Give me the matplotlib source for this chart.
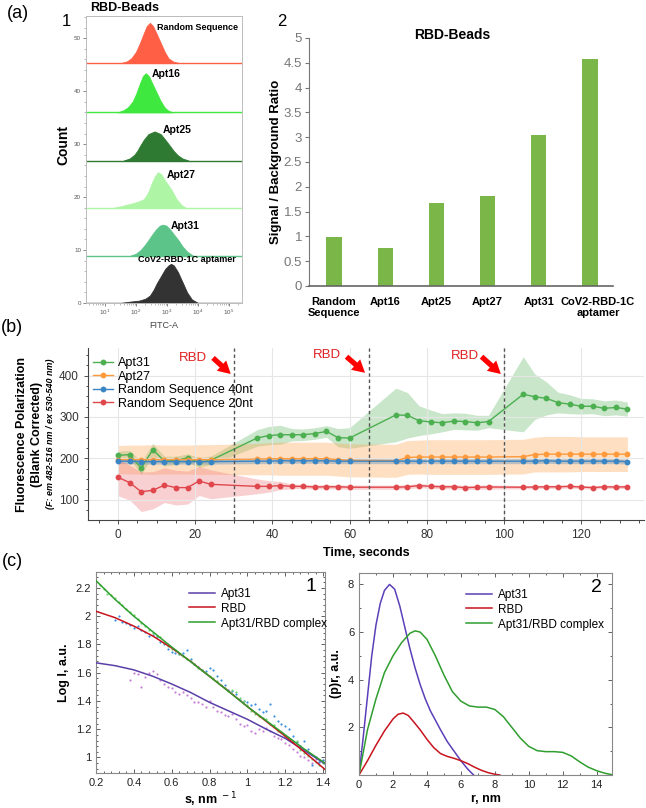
import numpy as np
import matplotlib.pyplot as plt
from matplotlib.ticker import MultipleLocator, AutoMinorLocator, LogLocator, NullFormatter
from matplotlib.transforms import ScaledTranslation

plt.rcParams['font.family'] = ['Liberation Sans', 'DejaVu Sans']

W, H = 646, 808

def rect(l, t, r, b):
    return [l / W, 1 - b / H, (r - l) / W, (b - t) / H]

# ---------------- (a)1 flow cytometry histograms ----------------
hist_names = ["Random Sequence", "Apt16", "Apt25", "Apt27", "Apt31", "CoV2-RBD-1C aptamer"]
hist_colors = ["#ff5f45", "#3ee83e", "#2f7a32", "#aef5a6", "#5cc489", "#333333"]
hist_base = [45.3, 36.0, 26.9, 18.0, 8.9, 0.0]
hist_logx = [
    [1.5, 1.7, 1.85, 2.0, 2.13, 2.25, 2.35, 2.45, 2.55, 2.67, 2.8, 2.93, 3.05, 3.2, 3.4],
    [1.4, 1.6, 1.75, 1.9, 2.02, 2.13, 2.23, 2.32, 2.42, 2.54, 2.67, 2.8, 2.93, 3.05, 3.2],
    [1.6, 1.8, 1.95, 2.05, 2.13, 2.25, 2.4, 2.6, 2.8, 2.95, 3.1, 3.22, 3.35, 3.5, 3.7],
    [1.3, 1.5, 1.7, 1.9, 2.1, 2.25, 2.35, 2.43, 2.52, 2.62, 2.71, 2.82, 2.95, 3.05, 3.15,
     3.3, 3.45, 3.6],
    [1.8, 2.0, 2.15, 2.28, 2.4, 2.52, 2.65, 2.77, 2.87, 2.98, 3.1, 3.23, 3.37, 3.5, 3.65, 3.85],
    [1.5, 1.8, 2.1, 2.3, 2.45, 2.57, 2.67, 2.8, 2.95, 3.05, 3.13, 3.22, 3.35, 3.52, 3.65,
     3.8, 4.0],
]
hist_counts = [
    [0, 0.3, 0.9, 2.1, 3.8, 5.6, 7.0, 7.6, 7.0, 5.5, 3.8, 2.1, 0.9, 0.3, 0],
    [0, 0.4, 1.0, 2.1, 3.7, 5.5, 6.9, 7.4, 6.8, 5.3, 3.7, 2.1, 0.9, 0.3, 0],
    [0, 0.4, 1.1, 1.9, 2.75, 3.9, 5.0, 5.5, 5.0, 3.9, 2.75, 1.8, 1.0, 0.4, 0],
    [0, 0.25, 0.55, 0.85, 1.2, 1.6, 2.4, 3.35, 4.8, 6.0, 6.7, 6.3, 5.0, 4.2, 3.35,
     1.7, 0.6, 0],
    [0, 0.4, 1.1, 2.0, 2.95, 4.0, 5.0, 5.7, 5.9, 5.7, 5.0, 4.0, 2.95, 1.8, 0.8, 0],
    [0, 0.25, 0.45, 0.8, 1.4, 2.5, 3.7, 5.0, 6.5, 7.1, 7.4, 7.1, 5.9, 3.7, 2.0, 0.7, 0],
]
hist_label_pos = [(2.68, 52.0), (2.52, 43.3), (2.85, 32.7), (2.98, 24.2), (3.13, 14.6), (2.06, 8.3)]

# ---------------- (a)2 bar chart ----------------
bar_labels = ["Random\nSequence", "Apt16", "Apt25", "Apt27", "Apt31", "CoV2-RBD-1C\naptamer"]
bar_values = [0.99, 0.77, 1.68, 1.82, 3.04, 4.57]

# ---------------- (b) fluorescence polarization ----------------
t_sec = [0, 3, 6, 9, 12, 15, 18, 21, 24,
         36, 39, 42, 45, 48, 51, 54, 57, 60,
         72, 75, 78, 81, 84, 87, 90, 93, 96,
         105, 108, 111, 114, 117, 120, 123, 126, 129, 132]
apt31 = [207, 209, 176, 221, 193, 195, 201, 190, 195,
         249, 255, 257, 257, 257, 260, 265, 250, 249,
         305, 304, 291, 288, 286, 290, 289, 286, 289,
         355, 349, 345, 335, 331, 326, 326, 321, 323, 319]
apt31_sd = [10, 10, 15, 15, 12, 10, 10, 12, 10,
            20, 22, 23, 15, 14, 14, 14, 22, 25,
            65, 55, 36, 29, 22, 20, 20, 18, 15,
            91, 55, 40, 25, 23, 19, 18, 18, 18, 17]
apt27 = [197, 197, 197, 197, 197, 197, 197, 197, 197,
         198, 199, 199, 199, 199, 199, 199, 197, 195,
         194, 202, 203, 203, 203, 203, 203, 203, 203,
         204, 209, 210, 210, 210, 210, 210, 210, 210, 210]
apt27_sd = [34, 35, 35, 36, 35, 35, 35, 36, 36,
            38, 39, 40, 40, 40, 40, 40, 40, 40,
            40, 41, 41, 42, 42, 42, 42, 42, 42,
            42, 42, 43, 43, 43, 42, 42, 42, 42, 42]
rs40 = [193, 193, 192, 192, 192, 192, 192, 192, 192,
        193, 193, 194, 194, 194, 194, 194, 193, 193,
        193, 193, 193, 193, 193, 193, 193, 193, 193,
        193, 193, 194, 193, 193, 193, 193, 193, 193, 192]
rs40_sd = [6, 6, 6, 6, 6, 6, 6, 6, 6,
           6, 6, 6, 6, 6, 6, 6, 6, 6,
           6, 6, 6, 6, 6, 6, 6, 6, 6,
           6, 6, 6, 6, 6, 6, 6, 6, 6, 6]
rs20 = [154, 141, 119, 122.5, 135, 129, 129, 145, 137,
        132, 132, 134, 132, 132, 130.5, 131, 131, 130,
        130, 131, 134, 132, 131, 131, 129, 130, 130.5,
        130, 130.5, 131, 131, 132, 130.5, 129, 131, 130.5, 131]
rs20_sd = [45, 42, 48, 45, 42, 42, 40, 35, 35,
           18, 14, 10, 6, 5, 5, 5, 5, 5,
           5, 5, 5, 5, 5, 5, 5, 5, 5,
           4, 4, 4, 4, 4, 4, 4, 4, 4, 4]
rbd_times = [30, 65, 100]
rbd_text_pos = [(19.4, 444), (54.2, 450), (89.9, 448)]
rbd_arrow = [((24.6, 443), (29.2, 404)), ((59.2, 446), (64.0, 407)), ((94.2, 446), (99.2, 404))]

# ---------------- (c)1 SAXS curves ----------------
fit_s = [0.2, 0.3, 0.4, 0.5, 0.6, 0.7, 0.8, 0.9, 1.0, 1.1, 1.2, 1.3, 1.41]
fit_apt31 = [1.67, 1.65, 1.62, 1.575, 1.52, 1.46, 1.39, 1.33, 1.27, 1.20, 1.135, 1.05, 0.955]
fit_rbd = [2.035, 1.99, 1.93, 1.86, 1.775, 1.68, 1.574, 1.47, 1.36, 1.255, 1.15, 1.04, 0.915]
fit_complex = [2.252, 2.12, 2.0, 1.89, 1.782, 1.678, 1.574, 1.468, 1.36, 1.26, 1.16, 1.06, 0.96]

pts_s_apt31 = [0.38, 0.40, 0.42, 0.44, 0.46, 0.48, 0.50, 0.52, 0.54, 0.56, 0.58, 0.60, 0.62, 0.64,
               0.66, 0.68, 0.70, 0.72, 0.74, 0.76, 0.78, 0.80, 0.82, 0.84, 0.86, 0.88, 0.90, 0.92,
               0.94, 0.96, 0.98, 1.00, 1.02, 1.04, 1.06, 1.08, 1.10, 1.12, 1.14, 1.16, 1.18, 1.20,
               1.22, 1.24, 1.26, 1.28, 1.30, 1.32, 1.34, 1.36, 1.38, 1.40]
pts_apt31 = [1.55, 1.60, 1.59, 1.50, 1.57, 1.60, 1.61, 1.59, 1.55, 1.52, 1.50, 1.49, 1.46, 1.45,
             1.46, 1.44, 1.42, 1.39, 1.39, 1.38, 1.36, 1.40, 1.36, 1.33, 1.32, 1.30, 1.29, 1.31,
             1.27, 1.24, 1.22, 1.23, 1.19, 1.17, 1.20, 1.19, 1.21, 1.19, 1.15, 1.14, 1.13, 1.10,
             1.09, 1.06, 1.04, 1.01, 1.00, 0.98, 0.96, 0.99, 0.97, 0.98]
pts_s_rbd = [0.30, 0.32, 0.34, 0.36, 0.38, 0.40, 0.42, 0.44, 0.46, 0.48, 0.50, 0.52, 0.54, 0.56,
             0.58, 0.60, 0.62, 0.64, 0.66, 0.68, 0.70, 0.72, 0.74, 0.76, 0.78, 0.80, 0.82, 0.84,
             0.86, 0.88, 0.90, 0.92, 0.94, 0.96, 0.98, 1.00, 1.02, 1.04, 1.06, 1.08, 1.10, 1.12,
             1.14, 1.16, 1.18, 1.20, 1.22, 1.24, 1.26, 1.28, 1.30, 1.32, 1.34, 1.36, 1.38, 1.40]
pts_rbd = [1.97, 2.00, 1.96, 1.95, 1.94, 1.92, 1.93, 1.90, 1.89, 1.86, 1.87, 1.85, 1.82, 1.80,
           1.77, 1.75, 1.74, 1.73, 1.74, 1.76, 1.70, 1.66, 1.64, 1.62, 1.61, 1.63, 1.62, 1.58,
           1.55, 1.51, 1.48, 1.47, 1.45, 1.41, 1.40, 1.39, 1.37, 1.38, 1.34, 1.32, 1.33, 1.38,
           1.29, 1.26, 1.24, 1.22, 1.20, 1.15, 1.11, 1.08, 1.12, 1.06, 0.95, 1.00, 0.97, 0.98]
pts_s_complex = [0.20, 0.22, 0.24, 0.26, 0.28, 0.30, 0.32, 0.34, 0.36, 0.38, 0.40, 0.42, 0.44, 0.46,
                 0.48, 0.50, 0.52, 0.54, 0.56, 0.58, 0.60, 0.62, 0.64, 0.66, 0.68, 0.70, 0.72, 0.74,
                 0.76, 0.78, 0.80, 0.82, 0.84, 0.86, 0.88, 0.90, 0.92, 0.94, 0.96, 0.98, 1.00, 1.02,
                 1.04, 1.06, 1.08, 1.10, 1.12, 1.14, 1.16, 1.18, 1.20, 1.22, 1.24, 1.26, 1.28, 1.30,
                 1.32, 1.34, 1.36, 1.38, 1.40]
pts_complex = [2.24, 2.22, 2.19, 2.16, 2.15, 2.13, 2.10, 2.08, 2.05, 2.03, 2.01, 1.98, 1.95, 1.93,
               1.90, 1.88, 1.86, 1.85, 1.81, 1.79, 1.77, 1.76, 1.73, 1.72, 1.70, 1.68, 1.66, 1.63,
               1.62, 1.60, 1.58, 1.56, 1.54, 1.51, 1.49, 1.47, 1.48, 1.46, 1.42, 1.40, 1.37, 1.33,
               1.31, 1.29, 1.28, 1.27, 1.24, 1.23, 1.19, 1.18, 1.15, 1.13, 1.11, 1.12, 1.05, 1.03,
               1.01, 0.99, 0.97, 0.95, 0.96]

# ---------------- (c)2 pair distance distribution ----------------
r_apt31 = [0, 0.25, 0.5, 0.75, 1.0, 1.25, 1.5, 1.8, 2.1, 2.4, 2.7, 3.0, 3.3, 3.6, 3.9, 4.2,
           4.5, 4.8, 5.2, 5.6, 6.0, 6.4, 6.75]
p_apt31 = [0, 1.6, 3.3, 5.0, 6.3, 7.2, 7.75, 8.0, 7.8, 7.1, 6.2, 5.3, 4.5, 3.8, 3.2, 2.7,
           2.3, 1.9, 1.4, 1.0, 0.6, 0.25, 0]
r_rbd = [0, 0.5, 1.0, 1.5, 2.0, 2.3, 2.6, 2.9, 3.2, 3.6, 4.0, 4.4, 4.8, 5.2, 5.6, 6.0, 6.4,
         6.8, 7.2, 7.6, 8.0, 8.3]
p_rbd = [0, 0.6, 1.25, 1.85, 2.35, 2.55, 2.6, 2.5, 2.25, 1.9, 1.5, 1.15, 0.9, 0.78, 0.7, 0.6,
         0.48, 0.33, 0.2, 0.1, 0.03, 0]
r_complex = [0, 0.5, 1.0, 1.5, 2.0, 2.5, 3.0, 3.3, 3.6, 4.0, 4.5, 5.0, 5.5, 6.0, 6.5, 7.0,
             7.5, 8.0, 8.5, 9.0, 9.5, 10.0, 10.5, 11.0, 11.5, 12.0, 12.5, 13.0, 13.5, 14.0,
             14.5, 15.0]
p_complex = [0, 1.9, 3.2, 4.3, 5.0, 5.55, 5.95, 6.05, 6.0, 5.7, 5.0, 4.2, 3.5, 3.1, 2.9, 2.85,
             2.85, 2.75, 2.45, 2.0, 1.55, 1.2, 1.02, 0.98, 0.98, 0.95, 0.8, 0.55, 0.33, 0.18,
             0.07, 0]

fig = plt.figure(figsize=(W / 100, H / 100), dpi=100)

# ===== (a)1 =====
ax1 = fig.add_axes(rect(86, 16, 242, 303))
ax1.set_xscale('log')
for xs, cs, base, col in zip(hist_logx, hist_counts, hist_base, hist_colors):
    xv = 10 ** np.array(xs)
    ax1.fill_between(xv, base, base + np.array(cs), color=col, lw=0.6, zorder=2)
    ax1.axhline(base, color=col, lw=1.0, zorder=2)
for name, (lx, ly) in zip(hist_names, hist_label_pos):
    ax1.text(10 ** lx, ly, name, fontsize=6.5 if len(name) > 6 else 7.5, fontweight='bold',
             va='center', ha='left', zorder=3)
ax1.set_xlim(10 ** 0.39, 10 ** 5.42)
ax1.set_ylim(0, 54.2)
ax1.xaxis.set_minor_locator(LogLocator(base=10, subs=np.arange(2, 10), numticks=10))
ax1.xaxis.set_minor_formatter(NullFormatter())
ax1.set_xticks([10, 100, 1000, 10000, 100000])
ax1.set_yticks([0, 10, 20, 30, 40, 50])
ax1.yaxis.set_minor_locator(MultipleLocator(2))
ax1.tick_params(labelsize=4.5, colors='#555555', length=2, width=0.5, pad=1.5)
ax1.tick_params(which='minor', length=1.2, width=0.4, colors='#888888')
for sp in ax1.spines.values():
    sp.set_color('#bbbbbb')
    sp.set_linewidth(0.7)
ax1.set_xlabel('FITC-A', fontsize=6.5, color='#444444', labelpad=3)
fig.text(63 / W, 1 - 145 / H, 'Count', rotation=90, fontsize=10, fontweight='bold',
         ha='center', va='center')
fig.text(125 / W, 1 - 8 / H, 'RBD-Beads', fontsize=9, fontweight='bold', ha='center', va='center')

# ===== (a)2 =====
ax2 = fig.add_axes(rect(309, 38, 613, 286))
xpos = np.arange(len(bar_values))
ax2.bar(xpos, bar_values, width=0.3, color='#7ab648', zorder=2)
ax2.set_xlim(-0.49, 5.45)
ax2.set_ylim(0, 5)
ax2.set_yticks(np.arange(0, 5.01, 0.5))
ax2.set_yticklabels(['0', '0.5', '1', '1.5', '2', '2.5', '3', '3.5', '4', '4.5', '5'])
ax2.set_xticks(xpos)
ax2.set_xticklabels(bar_labels, fontsize=8, fontweight='bold', linespacing=1.1)
ax2.tick_params(axis='x', length=0, pad=8)
ax2.tick_params(axis='y', labelsize=9.5, colors='#777777', length=3, width=0.8, pad=2)
for lab in ax2.get_xticklabels():
    lab.set_color('black')
# the last label sits a little to the right of its bar in the original
last = ax2.get_xticklabels()[-1]
last.set_transform(last.get_transform() + ScaledTranslation(0.08, 0, fig.dpi_scale_trans))
for s in ['top', 'right']:
    ax2.spines[s].set_visible(False)
ax2.spines['left'].set_color('#777777')
ax2.spines['bottom'].set_color('#666666')
ax2.spines['bottom'].set_linewidth(1.2)
ax2.set_ylabel('Signal / Background Ratio', fontsize=9.5, fontweight='bold', labelpad=1)
fig.text(452 / W, 1 - 35 / H, 'RBD-Beads', fontsize=10, fontweight='bold', ha='center', va='center')

# ===== (b) =====
axb = fig.add_axes(rect(88, 348, 644, 520))
series = [
    ('Apt31', apt31, apt31_sd, '#4caf50', '#4caf50', 0.3),
    ('Apt27', apt27, apt27_sd, '#ff9a3c', '#ffa552', 0.35),
    ('Random Sequence 40nt', rs40, rs40_sd, '#3a86c4', '#7a9fbf', 0.5),
    ('Random Sequence 20nt', rs20, rs20_sd, '#e0474c', '#f07b7f', 0.35),
]
tt = np.array(t_sec)
for i, (name, vals, sd, col, fcol, al) in enumerate(series):
    v = np.array(vals, dtype=float)
    s = np.array(sd, dtype=float)
    axb.fill_between(tt, v - s, v + s, color=fcol, alpha=al, lw=0, zorder=1 + i * 0.1)
for name, vals, sd, col, fcol, al in series:
    axb.plot(tt, vals, '-o', color=col, lw=1.0, ms=3.2, label=name, zorder=3)
for tx in rbd_times:
    axb.axvline(tx, color='#555555', ls=(0, (2.5, 2)), lw=1.0, zorder=4)
for (tx, ty), (a0, a1) in zip(rbd_text_pos, rbd_arrow):
    axb.text(tx, ty, 'RBD', color='#e02020', fontsize=9.5, ha='center', va='center')
    axb.annotate('', xy=a1, xytext=a0,
                 arrowprops=dict(arrowstyle='simple,head_width=1.0,head_length=0.9,tail_width=0.38',
                                 color='#ff0000', lw=0, mutation_scale=10,
                                 shrinkA=0, shrinkB=0))
axb.set_xlim(-7.8, 136.3)
axb.set_ylim(50.6, 467)
axb.set_xticks([0, 20, 40, 60, 80, 100, 120])
axb.set_yticks([100, 200, 300, 400])
axb.xaxis.set_minor_locator(AutoMinorLocator(4))
axb.yaxis.set_minor_locator(AutoMinorLocator(4))
axb.grid(True, color='#e6e6e6', lw=0.8, zorder=0)
axb.tick_params(labelsize=8.5, colors='#333333', length=3, width=0.6)
axb.tick_params(which='minor', length=1.8, width=0.5)
for s in ['top', 'right']:
    axb.spines[s].set_visible(False)
axb.spines['left'].set_color('#444444')
axb.spines['bottom'].set_color('#444444')
axb.set_xlabel('Time, seconds', fontsize=9, fontweight='bold', labelpad=4)
axb.legend(loc='upper left', bbox_to_anchor=(-0.005, 0.99), frameon=False, fontsize=9,
           handlelength=1.6, handletextpad=0.4, labelspacing=0.12, borderaxespad=0.2)
fig.text(22 / W, 1 - 434 / H, 'Fluorescence Polarization', rotation=90, fontsize=9,
         fontweight='bold', ha='center', va='center')
fig.text(37 / W, 1 - 434 / H, '(Blank Corrected)', rotation=90, fontsize=9,
         fontweight='bold', ha='center', va='center')
fig.text(51 / W, 1 - 434 / H, '(F: em 482-516 nm / ex 530-540 nm)', rotation=90, fontsize=6.5,
         fontweight='bold', fontstyle='italic', ha='center', va='center')

# ===== (c)1 =====
axc = fig.add_axes(rect(96, 572, 325, 773))
axc.scatter(pts_s_apt31, pts_apt31, s=2.5, color='#c780d8', lw=0, zorder=2)
axc.scatter(pts_s_rbd, pts_rbd, s=2.5, color='#3b8fe0', lw=0, zorder=2)
axc.scatter(pts_s_complex, pts_complex, s=2.5, color='#6fd86f', lw=0, zorder=2)
axc.plot(fit_s, fit_apt31, color='#5b3fa8', lw=1.1, label='Apt31', zorder=3)
axc.plot(fit_s, fit_rbd, color='#c8141e', lw=1.1, label='RBD', zorder=3)
axc.plot(fit_s, fit_complex, color='#2f9e2f', lw=1.1, label='Apt31/RBD complex', zorder=3)
axc.set_xlim(0.2, 1.41)
axc.set_ylim(0.89, 2.313)
axc.set_xticks([0.2, 0.4, 0.6, 0.8, 1.0, 1.2, 1.4])
axc.set_xticklabels(['0.2', '0.4', '0.6', '0.8', '1', '1.2', '1.4'])
axc.set_yticks([1.0, 1.2, 1.4, 1.6, 1.8, 2.0, 2.2])
axc.set_yticklabels(['1', '1.2', '1.4', '1.6', '1.8', '2', '2.2'])
axc.xaxis.set_minor_locator(AutoMinorLocator(5))
axc.yaxis.set_minor_locator(AutoMinorLocator(5))
axc.tick_params(which='both', direction='in', top=True, right=True, labelsize=8,
                colors='#222222', width=0.5)
axc.tick_params(which='major', length=3)
axc.tick_params(which='minor', length=1.5)
for sp in axc.spines.values():
    sp.set_color('#888888')
axc.set_xlabel('s, nm$^{\\ -1}$', fontsize=9, fontweight='bold', labelpad=2)
axc.set_ylabel('Log I, a.u.', fontsize=9, fontweight='bold', labelpad=4)
axc.legend(loc='upper left', bbox_to_anchor=(0.36, 0.975), frameon=False, fontsize=8.5,
           handlelength=2.2, handletextpad=0.5, labelspacing=0.25)
axc.text(0.94, 0.93, '1', transform=axc.transAxes, fontsize=14, ha='center', va='center')

# ===== (c)2 =====
axd = fig.add_axes(rect(359, 573, 612, 775))
axd.plot(r_apt31, p_apt31, color='#5b3fb8', lw=1.1, label='Apt31')
axd.plot(r_rbd, p_rbd, color='#c8141e', lw=1.1, label='RBD')
axd.plot(r_complex, p_complex, color='#2f9e2f', lw=1.1, label='Apt31/RBD complex')
axd.set_xlim(0, 14.9)
axd.set_ylim(0, 8.48)
axd.set_xticks([0, 2, 4, 6, 8, 10, 12, 14])
axd.set_yticks([2, 4, 6, 8])
axd.xaxis.set_minor_locator(AutoMinorLocator(2))
axd.yaxis.set_minor_locator(AutoMinorLocator(2))
axd.tick_params(which='both', direction='in', top=True, right=True, labelsize=8,
                colors='#222222', width=0.5)
axd.tick_params(which='major', length=3)
axd.tick_params(which='minor', length=1.5)
for sp in axd.spines.values():
    sp.set_color('#888888')
axd.set_xlabel('r, nm', fontsize=9, fontweight='bold', labelpad=2)
axd.set_ylabel('(p)r, a.u.', fontsize=9, fontweight='bold', labelpad=4)
axd.legend(loc='upper left', bbox_to_anchor=(0.38, 0.975), frameon=False, fontsize=8.5,
           handlelength=2.2, handletextpad=0.5, labelspacing=0.25)
axd.text(0.94, 0.93, '2', transform=axd.transAxes, fontsize=14, ha='center', va='center')

# panel letters
fig.text(7 / W, 1 - 13 / H, '(a)', fontsize=13, va='center')
fig.text(62 / W, 1 - 22 / H, '1', fontsize=12, va='center')
fig.text(277 / W, 1 - 22 / H, '2', fontsize=12, va='center')
fig.text(1 / W, 1 - 328 / H, '(b)', fontsize=13, va='center')
fig.text(2 / W, 1 - 562 / H, '(c)', fontsize=13, va='center')

fig.savefig('out.png', dpi=100)
